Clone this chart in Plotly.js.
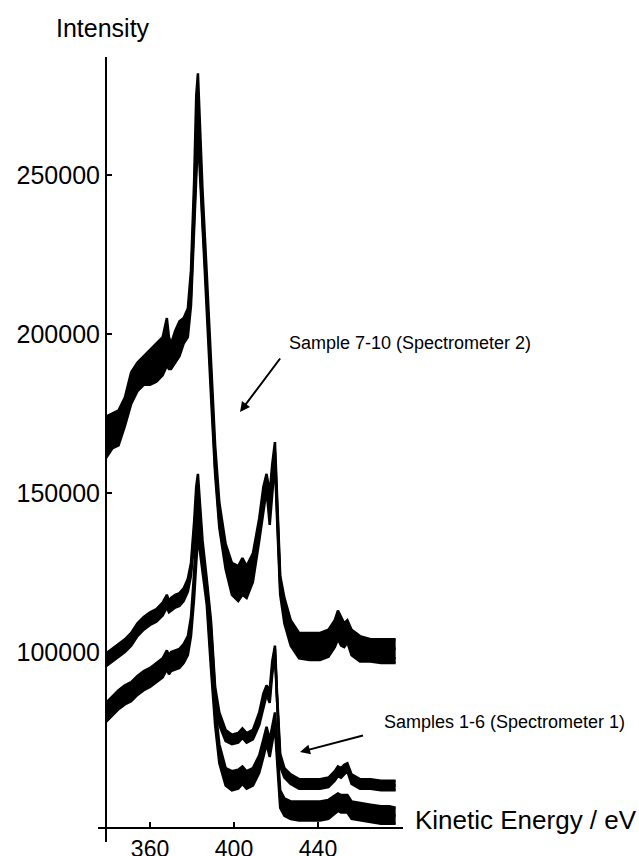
<!DOCTYPE html>
<html>
<head>
<meta charset="utf-8">
<script src="https://cdn.plot.ly/plotly-3.0.1.min.js"></script>
<style>html,body{margin:0;padding:0;background:#fff;}#chart{width:639px;height:856px;}</style>
</head>
<body>
<div id="chart"></div>
<script>
// Kinetic energy (eV)
const energy = [339,342,345,348,351,354,357,360,363,366,368,369,370,372,374,376,378,379.5,381,382,382.8,383.5,385,387,389,391,393,396,399,402,404,406,409,412,414,415.5,417,418.2,419.5,420.5,422,424,427,431,436,441,445,448,449.5,451,452.5,454,456,460,465,470,474,477];

// Spectrometer 2 – samples 7-10
const sample7 = [174e3,175e3,176e3,180e3,188e3,191e3,193e3,195e3,197e3,199e3,205e3,199e3,197e3,201e3,204e3,205e3,208e3,220e3,248e3,275e3,282e3,270e3,245e3,219e3,190e3,165e3,147e3,134e3,128e3,127e3,129.5e3,127e3,131e3,142e3,152e3,156e3,150e3,159e3,166e3,148e3,124e3,117e3,110e3,106e3,106e3,106e3,107e3,110e3,113e3,111e3,109e3,110e3,107e3,105e3,104e3,104e3,104e3,104e3];
const sample8 = [170e3,172e3,172e3,177e3,185e3,188e3,190e3,191e3,193e3,195e3,200e3,195e3,194e3,198e3,200e3,202e3,205e3,216e3,242e3,265e3,272e3,264e3,240e3,215e3,186e3,161e3,144e3,131e3,125e3,123e3,125e3,123e3,128e3,140e3,150e3,155e3,148e3,157e3,163e3,146e3,122e3,114e3,108e3,104e3,103e3,103e3,104e3,107e3,110e3,108e3,107e3,108e3,104e3,102e3,102e3,101e3,101e3,101e3];
const sample9 = [165e3,168e3,169e3,174e3,181e3,185e3,187e3,188e3,189e3,191e3,195e3,192e3,191e3,194e3,196e3,199e3,202e3,212e3,238e3,258e3,266e3,258e3,236e3,212e3,183e3,158e3,141e3,128e3,121e3,119e3,121e3,120e3,125e3,137e3,147e3,153e3,144e3,154e3,161e3,144e3,120e3,111e3,105e3,101e3,100e3,100e3,101e3,104e3,107e3,105e3,104e3,106e3,101e3,99e3,99e3,98e3,98e3,98e3];
const sample10 = [161e3,164e3,165e3,171e3,178e3,182e3,184e3,184e3,185e3,187e3,190e3,189e3,189e3,191e3,193e3,197e3,199e3,209e3,234e3,253e3,262e3,254e3,233e3,210e3,181e3,156e3,139e3,126e3,118e3,116e3,118e3,117e3,122e3,135e3,145e3,151e3,140e3,151e3,160e3,142e3,118e3,109e3,102e3,98e3,97.5e3,97.5e3,98.5e3,101.5e3,104e3,102e3,101.5e3,103e3,99e3,97e3,97e3,96.5e3,96.5e3,96.5e3];

// Spectrometer 1 – samples 1-6
const sample1 = [99.5e3,101e3,102.5e3,104e3,106e3,109e3,111e3,112.5e3,113.5e3,115.5e3,118e3,116e3,117e3,118e3,118.5e3,120e3,123e3,128e3,141e3,152e3,156e3,150e3,135e3,123e3,110e3,89e3,81e3,75.5e3,74e3,74.5e3,76e3,74.5e3,75.5e3,81e3,87e3,89.5e3,88e3,97e3,102e3,87e3,68e3,63.5e3,61.5e3,60e3,60e3,60e3,60.5e3,62.5e3,64e3,63.5e3,64.5e3,65e3,61.5e3,60e3,60e3,59.5e3,59.5e3,59.5e3];
const sample2 = [97.5e3,99e3,100.5e3,102e3,104e3,107e3,109e3,110.5e3,111.5e3,113.5e3,116.5e3,114e3,115e3,116e3,116.5e3,118e3,121e3,126e3,138e3,148e3,152e3,146e3,132e3,121e3,108e3,87e3,79e3,74e3,72.5e3,73e3,74.5e3,73e3,74e3,79e3,85e3,88e3,86e3,95e3,101e3,85e3,66e3,62e3,60e3,58.5e3,58.5e3,58.5e3,59e3,61e3,62.5e3,62e3,63e3,64e3,60e3,58.5e3,58.5e3,58e3,58e3,58e3];
const sample3 = [95.5e3,97e3,98.5e3,100e3,102e3,105e3,107e3,108.5e3,109.5e3,111.5e3,114e3,112.5e3,113e3,114e3,114.5e3,116e3,119e3,124e3,135e3,144e3,148e3,143e3,130e3,119e3,106e3,85e3,77e3,72e3,71e3,71.5e3,73e3,71.5e3,72.5e3,77e3,83e3,86.5e3,84e3,93e3,99e3,83e3,64e3,60.5e3,58.5e3,57e3,57e3,57e3,57.5e3,59.5e3,61e3,60.5e3,61.5e3,62.5e3,58.5e3,57e3,57e3,56.5e3,56.5e3,56.5e3];
const sample4 = [84e3,86e3,88e3,89.5e3,90.5e3,92.5e3,94e3,95e3,96.5e3,98e3,100.5e3,99e3,100e3,100.5e3,101e3,102.5e3,105e3,111e3,125e3,138e3,145e3,141e3,131e3,121e3,101e3,83e3,71e3,63.5e3,62.5e3,63e3,64e3,62.5e3,63.5e3,67.5e3,72.5e3,76.5e3,72.5e3,76.5e3,81e3,71.5e3,56.5e3,54e3,53e3,53e3,53e3,53e3,53.5e3,55e3,55.5e3,55e3,55e3,55e3,53e3,52.5e3,52e3,51.5e3,51.5e3,51e3];
const sample5 = [81e3,83e3,85e3,86.5e3,87.5e3,89.5e3,91e3,92e3,93.5e3,95e3,97.5e3,96e3,97e3,97.5e3,98e3,99.5e3,102e3,108e3,121e3,133e3,140e3,137e3,128e3,118e3,98e3,80e3,68e3,61e3,59.5e3,60e3,61.5e3,60e3,61e3,65e3,70e3,74e3,70e3,74e3,79e3,69e3,54e3,51.5e3,50.5e3,50e3,50e3,50e3,50.5e3,52e3,53e3,52.5e3,52.5e3,52.5e3,50.5e3,50e3,49.5e3,49e3,49e3,48.5e3];
const sample6 = [78e3,80e3,82e3,83.5e3,84.5e3,86.5e3,88e3,89e3,90.5e3,92e3,94.5e3,93e3,94e3,94.5e3,95e3,96.5e3,99e3,105e3,117e3,128e3,136e3,133e3,125e3,115e3,95e3,77e3,65e3,58e3,56.5e3,57e3,58.5e3,57e3,58e3,62e3,67e3,71e3,67e3,71e3,76.5e3,66e3,51e3,48.5e3,47.5e3,47e3,47e3,47e3,47.5e3,49e3,50e3,49.5e3,49.5e3,49.5e3,47.5e3,47e3,46.5e3,46e3,46e3,46e3];

const groups = [
  [sample7, sample8, sample9, sample10],
  [sample1, sample2, sample3],
  [sample4, sample5, sample6]
];

const xTicks = [360, 400, 440];
const yTicks = [100000, 150000, 200000, 250000];

const traces = [];
groups.forEach(g => {
  g.forEach((s, i) => {
    traces.push({
      x: energy, y: s, type: 'scatter', mode: 'lines',
      line: {color: '#000', width: 2.5},
      fill: i === 0 ? 'none' : 'tonexty',
      fillcolor: '#000',
      showlegend: false, hoverinfo: 'skip'
    });
  });
});

const FONT = '"Liberation Sans", Arial, Helvetica, sans-serif';

const layout = {
  width: 639, height: 856,
  margin: {l: 98, r: 236, t: 57, b: 14, pad: 0},
  paper_bgcolor: '#fff', plot_bgcolor: '#fff',
  font: {family: FONT, color: '#000'},
  showlegend: false,
  xaxis: {
    range: [335.2, 480.5], tickvals: xTicks, ticks: 'inside', ticklen: 5, tickwidth: 1.5, tickcolor: '#000',
    showline: true, linecolor: '#000', linewidth: 2, showgrid: false, zeroline: false,
    anchor: 'free', position: 0.0178, tickfont: {size: 23, family: FONT, color: '#000'},
    ticklabelstandoff: 0
  },
  yaxis: {
    range: [40250, 287100], tickvals: yTicks, tickformat: 'd', ticks: 'inside', ticklen: 5, tickwidth: 1.5, tickcolor: '#000',
    showline: true, linecolor: '#000', linewidth: 2, showgrid: false, zeroline: false,
    anchor: 'free', position: 0.0262, tickfont: {size: 25, family: FONT, color: '#000'}
  },
  annotations: [
    {text: 'Intensity', xref: 'paper', yref: 'paper', x: 0.0164, y: 1.0369, xanchor: 'center', yanchor: 'middle', showarrow: false, font: {size: 25, family: FONT, color: '#000'}},
    {text: 'Kinetic Energy / eV', xref: 'paper', yref: 'paper', x: 1.0328, y: 0.028, xanchor: 'left', yanchor: 'middle', showarrow: false, font: {size: 26, family: FONT, color: '#000'}},
    {text: 'Sample 7-10 (Spectrometer 2)', xref: 'paper', yref: 'paper', x: 0.6197, y: 0.6357, xanchor: 'left', yanchor: 'middle', showarrow: false, font: {size: 18, family: FONT, color: '#000'}},
    {text: ' ', xref: 'paper', yref: 'paper', x: 0.4656, y: 0.5478, ax: 42, ay: -56, showarrow: true, arrowhead: 2, arrowsize: 1, arrowwidth: 2, arrowcolor: '#000', font: {size: 2}},
    {text: 'Samples 1-6 (Spectrometer 1)', xref: 'paper', yref: 'paper', x: 0.931, y: 0.1529, xanchor: 'left', yanchor: 'middle', showarrow: false, font: {size: 18, family: FONT, color: '#000'}},
    {text: ' ', xref: 'paper', yref: 'paper', x: 0.6623, y: 0.1146, ax: 65, ay: -17, showarrow: true, arrowhead: 2, arrowsize: 1, arrowwidth: 2, arrowcolor: '#000', font: {size: 2}}
  ]
};

Plotly.newPlot('chart', traces, layout, {staticPlot: true, displayModeBar: false});
</script>
</body>
</html>
